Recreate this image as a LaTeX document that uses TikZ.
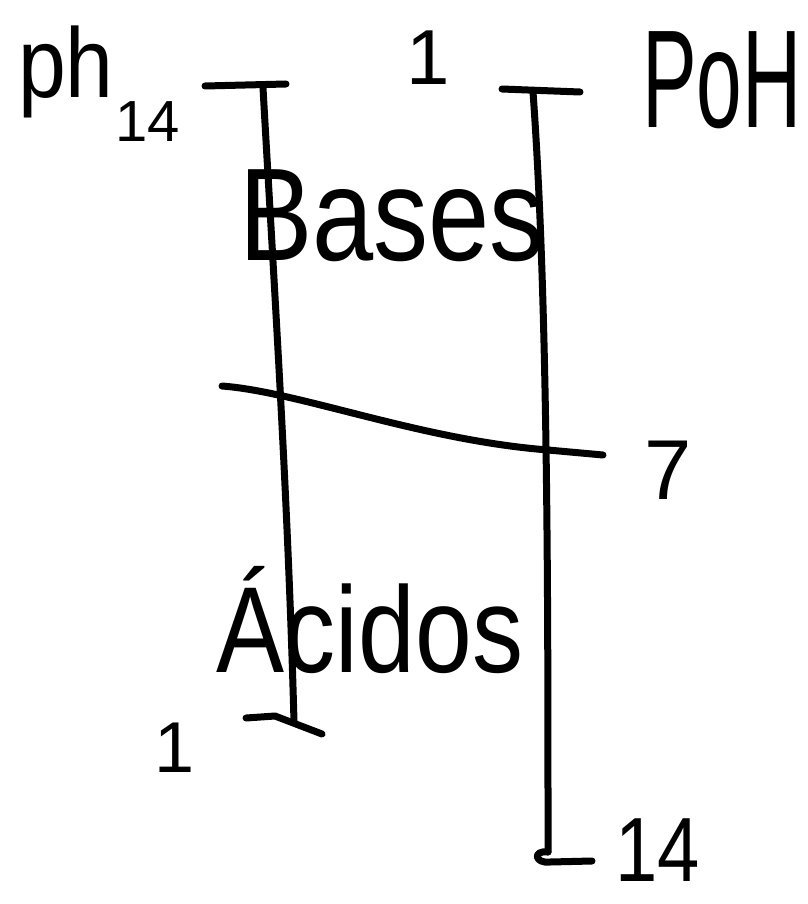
\documentclass[tikz,border=0pt]{standalone}
\usepackage{fontspec}
\setmainfont{Liberation Sans}
\begin{document}
\begin{tikzpicture}[x=1pt,y=-1pt,
  stroke/.style={line width=7pt,line cap=round,line join=round},
  lbl/.style={inner sep=0pt,anchor=center}]
\useasboundingbox[fill=white] (0,0) rectangle (807,904);

% pH scale (left bar) with end ticks
\coordinate (phtop) at (263,88);
\coordinate (phbot) at (294,722);
\draw[stroke] (205,86) -- (286,84);
\draw[stroke] (phtop) .. controls (275,300) and (288,500) .. (phbot);
\draw[stroke] (246,718) -- (275,716) -- (322,734);

% pOH scale (right bar) with end ticks
\coordinate (pohtop) at (533,92);
\coordinate (pohbot) at (548,852);
\draw[stroke] (502,89) -- (580,92);
\draw[stroke] (pohtop) .. controls (548,300) and (548,600) .. (pohbot);
\draw[stroke] (548,852) .. controls (532,850) and (535,864) .. (550,862) -- (592,861);

% neutral line at 7
\coordinate (nl) at (222,386);
\coordinate (nr) at (603,455);
\draw[stroke] (nl) .. controls (300,392) and (420,440) .. (548,450) -- (nr);

% scale labels
\node[lbl,font=\fontsize{86}{86}\selectfont,yscale=1.15] (ph) at (66,72) {ph};
\node[lbl,font=\fontsize{58}{58}\selectfont] (ph14) at (148,122) {14};
\node[lbl,font=\fontsize{78}{78}\selectfont] (top1) at (428,58) {1};
\node[lbl,font=\fontsize{82}{82}\selectfont,yscale=1.7] (poh) at (722,80) {PoH};

% regions
\node[lbl,font=\fontsize{110}{110}\selectfont,yscale=1.2] (bases) at (392,216) {Bases};
\node[lbl,font=\fontsize{102}{102}\selectfont,yscale=1.2] (acidos) at (370,620) {Ácidos};

% values on the scales
\node[lbl,font=\fontsize{85}{85}\selectfont] (seven) at (668,470) {7};
\node[lbl,font=\fontsize{72}{72}\selectfont] (bot1) at (175,748) {1};
\node[lbl,font=\fontsize{76}{76}\selectfont,yscale=1.2] (bot14) at (658,850) {14};
\end{tikzpicture}
\end{document}
